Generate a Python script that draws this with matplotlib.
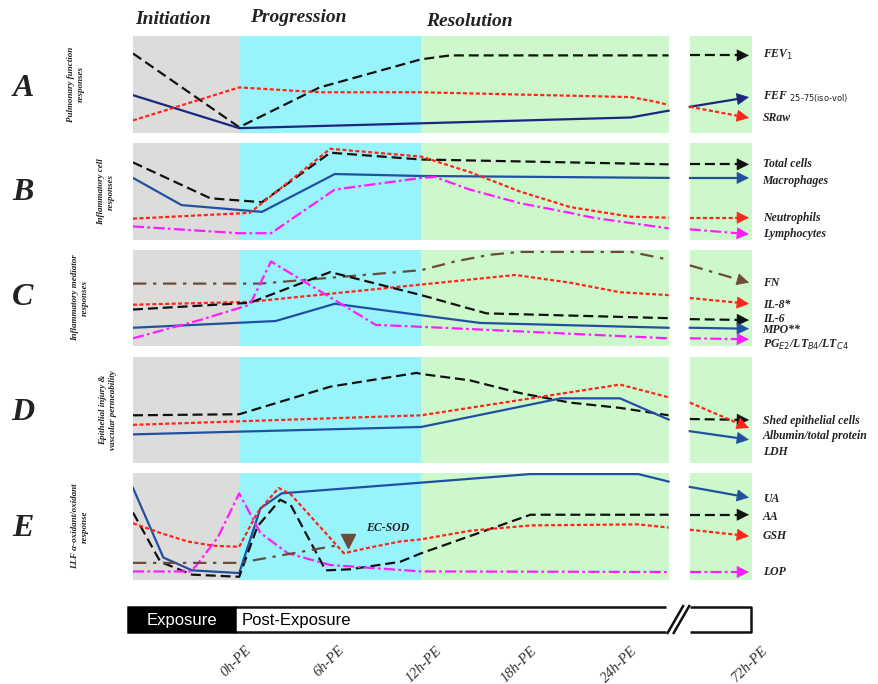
import matplotlib
matplotlib.use('Agg')
import matplotlib.pyplot as plt
from matplotlib.patches import Rectangle

plt.rcParams['font.family'] = ['Liberation Serif', 'DejaVu Serif']

W, H = 879, 684

# time axis in hours after exposure; -7..0 is the exposure, 72h is drawn after the break
x_min, x_max = -7.0, 33.8
main_end, tail_start, tail_tip = 28.3, 29.7, 33.6
phases = [(-7.0, 0.0, '#dcdcda'), (0.0, 12.0, '#98f3fb'), (12.0, 28.3, '#ccf8cc'), (29.7, 33.8, '#ccf8cc')]
phase_names = ['Initiation', 'Progression', 'Resolution']

tick_labels = ['0h-PE', '6h-PE', '12h-PE', '18h-PE', '24h-PE', '72h-PE']
tick_pos = [0.0, 6.1, 12.5, 18.8, 25.4, 34.0]

# ---- A: pulmonary function (levels 0-100, schematic) ----
fev1_x = [-7, 0, 5.3, 12, 13.9, 28.3]
fev1_y = [82, 6, 47, 76, 80, 80]
fev1_tail = [80, 80]
fef_x = [-7, 0, 12, 25.8, 28.3]
fef_y = [39, 5, 10, 16, 23]
fef_tail = [27, 37]
sraw_x = [-7, 0, 5.3, 12, 25.8, 27.2, 28.3]
sraw_y = [13, 47, 42, 42, 37, 33, 29]
sraw_tail = [27, 15.5]

# ---- B: inflammatory cells ----
total_x = [-7, -1.9, 1.5, 6.0, 12, 28.3]
total_y = [80, 43, 39, 90, 83, 78]
total_tail = [78, 78]
macro_x = [-7, -3.8, 1.5, 6.3, 12, 28.3]
macro_y = [64, 36, 29, 68, 66, 64]
macro_tail = [64, 64]
neut_x = [-7, 0.7, 6.0, 12, 15.2, 18.5, 21.8, 25.8, 28.3]
neut_y = [22, 28, 94, 86, 70, 50, 34, 24, 23]
neut_tail = [23, 23]
lymph_x = [-7, 0, 2.1, 6.3, 12, 12.9, 15.2, 18.5, 21.8, 23.3, 28.3]
lymph_y = [14, 7, 7, 52, 64, 65, 52, 38, 28, 23, 12]
lymph_tail = [11, 6]

# ---- C: inflammatory mediators ----
fn_x = [-7, 1.4, 12, 14.2, 16.5, 18.5, 25.8, 28.3]
fn_y = [65, 65, 79, 88, 95, 98, 98, 90]
fn_tail = [84, 66]
il8_x = [-7, 0.7, 12, 18.2, 21.8, 25.1, 28.3]
il8_y = [43, 46, 64, 74, 66, 56, 53]
il8_tail = [50, 44]
il6_x = [-7, 0.7, 6.0, 12, 16.3, 28.3]
il6_y = [38, 45, 77, 53, 34, 29]
il6_tail = [28, 27]
mpo_x = [-7, 2.4, 6.3, 12, 15.9, 28.3]
mpo_y = [19, 26, 44, 32, 24, 19]
mpo_tail = [19, 18]
pg_x = [-7, -2.6, 0.7, 2.1, 9.0, 12, 28.3]
pg_y = [8, 27, 43, 88, 22, 20, 8]
pg_tail = [8, 7]

# ---- D: epithelial injury ----
shed_x = [-7, 0, 6.0, 11.7, 12, 15.2, 18.5, 21.8, 25.1, 28.3]
shed_y = [45, 46, 72, 85, 84, 78, 66, 57, 52, 45]
shed_tail = [41.5, 40.6]
alb_x = [-7, 12, 25.1, 28.3]
alb_y = [36, 45, 74, 62]
alb_tail = [57, 33]
ldh_x = [-7, 12, 21.2, 25.1, 28.3]
ldh_y = [27, 34, 61, 61, 41]
ldh_tail = [30, 22]

# ---- E: antioxidant / oxidant ----
ua_x = [-7, -5.0, -3.1, 0, 1.4, 2.8, 12, 19.2, 26.3, 28.3]
ua_y = [86, 21, 9, 6.5, 67, 81, 91, 99, 99, 92]
ua_tail = [87, 77]
aa_x = [-7, -5.2, -3.1, 0, 1.2, 2.7, 3.4, 5.7, 7.3, 10.6, 12, 19.2, 28.3]
aa_y = [63, 17, 5, 3, 50, 75, 70, 9, 10, 17, 25, 61, 61]
aa_tail = [61, 61]
gsh_x = [-7, -5.2, -3.4, -1.7, 0, 1.2, 2.6, 3.4, 6.9, 8.5, 10.6, 12, 15.2, 19.2, 26.3, 28.3]
gsh_y = [53, 44, 36, 32, 31, 63, 86, 80, 25, 30, 36, 38, 46, 51, 52, 49]
gsh_tail = [47, 41]
lop_x = [-7, -3.2, -2.8, -1.4, 0, 1.4, 3.2, 6.0, 12, 28.3]
lop_y = [8, 8, 14, 40, 81, 44, 25, 14, 8, 7.5]
lop_tail = [7.5, 7.5]
sod_x = [-7, 0, 6.7]
sod_y = [16, 16, 33]
sod_mark = (7.2, 36)

# line styles: (color, dashes)
BLACK = ('#111111', (4.5, 2.2))
RED = ('#ff2418', (1.8, 1.1))
BLUE = ('#2150a0', None)
NAVY = ('#1c2680', None)
MAGENTA = ('#ff1cff', (5, 1.5, 1.2, 1.5))
BROWN = ('#6e4a3a', (6, 3, 1.5, 3))

panels = [
    ('A', 'Pulmonary function\nresponses', (36, 133), [
        (fev1_x, fev1_y, fev1_tail, BLACK, 'FEV$_1$', 80),
        (fef_x, fef_y, fef_tail, NAVY, 'FEF $_{25\\text{-}75(\\mathrm{iso\\text{-}vol})}$', 37),
        (sraw_x, sraw_y, sraw_tail, RED, 'SRaw', 15.5)]),
    ('B', 'Inflammatory cell\nresponses', (143, 240), [
        (total_x, total_y, total_tail, BLACK, 'Total cells', 78),
        (macro_x, macro_y, macro_tail, BLUE, 'Macrophages', 61),
        (neut_x, neut_y, neut_tail, RED, 'Neutrophils', 23),
        (lymph_x, lymph_y, lymph_tail, MAGENTA, 'Lymphocytes', 6)]),
    ('C', 'Inflammatory mediator\nresponses', (250, 346), [
        (fn_x, fn_y, fn_tail, BROWN, 'FN', 66),
        (il8_x, il8_y, il8_tail, RED, 'IL-8*', 43),
        (il6_x, il6_y, il6_tail, BLACK, 'IL-6', 28.5),
        (mpo_x, mpo_y, mpo_tail, BLUE, 'MPO**', 16.5),
        (pg_x, pg_y, pg_tail, MAGENTA, 'PG$_{E2}$/LT$_{B4}$/LT$_{C4}$', 1)]),
    ('D', 'Epithelial injury &\nvascular permeability', (357, 463), [
        (shed_x, shed_y, shed_tail, BLACK, 'Shed epithelial cells', 40),
        (alb_x, alb_y, alb_tail, RED, 'Albumin/total protein', 25.5),
        (ldh_x, ldh_y, ldh_tail, BLUE, 'LDH', 10.5)]),
    ('E', 'LLF α-oxidant/oxidant\nresponse', (473, 580), [
        (ua_x, ua_y, ua_tail, BLUE, 'UA', 76),
        (aa_x, aa_y, aa_tail, BLACK, 'AA', 59),
        (gsh_x, gsh_y, gsh_tail, RED, 'GSH', 41),
        (lop_x, lop_y, lop_tail, MAGENTA, 'LOP', 7.5)]),
]
letter_y = [88, 192, 298, 412, 528]
side_x = [76, 106, 80, 108, 80]


def px_rect(left, top, right, bottom):
    return [left / W, 1 - bottom / H, (right - left) / W, (bottom - top) / H]


def draw(ax, xs, ys, style, lw=1.6):
    color, dashes = style
    line, = ax.plot(xs, ys, color=color, lw=lw, solid_joinstyle='miter')
    if dashes:
        line.set_dashes(dashes)


def tail_arrow(ax, ys, style):
    color = style[0]
    draw(ax, [tail_start, tail_tip - 0.3], [ys[0], ys[0] + (ys[1] - ys[0]) * 0.92], style)
    back = tail_tip - 0.6
    yb = ys[0] + (ys[1] - ys[0]) * (back - tail_start) / (tail_tip - tail_start)
    ax.annotate('', xy=(tail_tip, ys[1]), xytext=(back, yb),
                arrowprops=dict(arrowstyle='-|>', color=color, lw=0.5,
                                mutation_scale=20, shrinkA=0, shrinkB=0))


fig = plt.figure(figsize=(W / 100, H / 100), dpi=100)

lab_font = dict(fontweight='bold', fontstyle='italic', color='#222222')

for i, (letter, side, (top, bottom), series) in enumerate(panels):
    ax = fig.add_axes(px_rect(133, top, 752, bottom))
    ax.set_xlim(x_min, x_max)
    ax.set_ylim(0, 100)
    ax.axis('off')
    for x0, x1, c in phases:
        ax.axvspan(x0, x1, color=c, lw=0, zorder=0)
    for xs, ys, tail, style, name, ly in series:
        draw(ax, xs, ys, style)
        tail_arrow(ax, tail, style)
        ax.text(34.5, ly, name, fontsize=8.5, ha='left', va='center', clip_on=False, **lab_font)
    if letter == 'E':
        draw(ax, sod_x, sod_y, BROWN)
        ax.plot([sod_mark[0]], [sod_mark[1]], marker='v', ms=10, color='#6e4a3a', mec='#6e4a3a')
        ax.text(9.8, 49, 'EC-SOD', fontsize=8.5, ha='center', va='center', **lab_font)
    fig.text(23 / W, 1 - letter_y[i] / H, letter, fontsize=23, ha='center', va='center', **lab_font)
    fig.text(side_x[i] / W, 1 - (top + bottom) / 2 / H, side, fontsize=6.5, rotation=90,
             ha='center', va='center', linespacing=1.2, **lab_font)

# phase titles
for name, px, py in zip(phase_names, [135, 250, 426], [19, 18, 21]):
    fig.text(px / W, 1 - py / H, name, fontsize=14, ha='left', va='center', **lab_font)

# exposure bar and time ticks
bx = fig.add_axes(px_rect(133, 600, 752, 640))
bx.set_xlim(x_min, x_max)
bx.set_ylim(0, 1)
bx.axis('off')
bar_lo, bar_hi = 0.2, 0.825
bar_left, bar_black, bar_cut, bar_right = -7.3, -0.25, 28.1, 33.75
bx.add_patch(Rectangle((bar_left, bar_lo), bar_black - bar_left, bar_hi - bar_lo,
                       facecolor='black', edgecolor='black', lw=1.8, clip_on=False))
kw = dict(color='#111111', lw=1.8, clip_on=False, solid_capstyle='butt')
bx.plot([bar_black, bar_cut], [bar_hi, bar_hi], **kw)
bx.plot([bar_black, bar_cut], [bar_lo, bar_lo], **kw)
bx.plot([29.7, bar_right, bar_right, 29.7], [bar_hi, bar_hi, bar_lo, bar_lo], **kw)
bx.plot([28.2, 29.3], [bar_lo - 0.05, bar_hi + 0.05], **kw)
bx.plot([28.6, 29.7], [bar_lo - 0.05, bar_hi + 0.05], **kw)
bx.text(-3.75, 0.5, 'Exposure', color='white', fontsize=12, ha='center', va='center',
        family=['Liberation Sans', 'DejaVu Sans'])
bx.text(0.15, 0.5, 'Post-Exposure', color='black', fontsize=12, ha='left', va='center',
        family=['Liberation Sans', 'DejaVu Sans'])
for pos, lab in zip(tick_pos, tick_labels):
    bx.text(pos + 1.0, -0.1, lab, rotation=45, fontsize=10.5, fontstyle='italic',
            color='#333333', ha='right', va='top', clip_on=False)

fig.savefig('out.png', dpi=100)
